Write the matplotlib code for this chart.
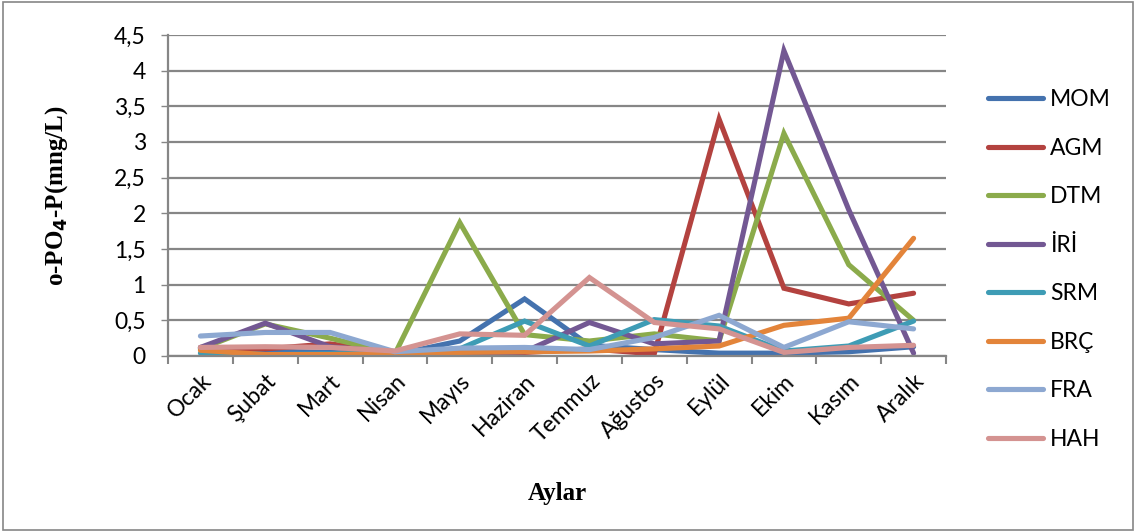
import matplotlib.pyplot as plt
import numpy as np

aylar = ['Ocak', 'Şubat', 'Mart', 'Nisan', 'Mayıs', 'Haziran', 'Temmuz',
         'Ağustos', 'Eylül', 'Ekim', 'Kasım', 'Aralık']

MOM = [0.10, 0.07, 0.05, 0.02, 0.21, 0.80, 0.15, 0.09, 0.04, 0.04, 0.06, 0.13]
AGM = [0.12, 0.10, 0.17, 0.05, 0.04, 0.05, 0.10, 0.03, 3.32, 0.95, 0.73, 0.88]
DTM = [0.10, 0.45, 0.25, 0.03, 1.87, 0.30, 0.21, 0.31, 0.21, 3.12, 1.28, 0.50]
IRI = [0.12, 0.46, 0.13, 0.05, 0.02, 0.06, 0.47, 0.17, 0.21, 4.28, 2.05, 0.04]
SRM = [0.04, 0.02, 0.03, 0.04, 0.10, 0.49, 0.14, 0.51, 0.42, 0.07, 0.14, 0.49]
BRC = [0.08, 0.02, 0.02, 0.03, 0.05, 0.06, 0.07, 0.10, 0.14, 0.43, 0.53, 1.65]
FRA = [0.28, 0.33, 0.33, 0.06, 0.11, 0.12, 0.09, 0.26, 0.57, 0.12, 0.48, 0.38]
HAH = [0.12, 0.13, 0.12, 0.07, 0.31, 0.29, 1.10, 0.47, 0.38, 0.05, 0.12, 0.15]

series = [('MOM', MOM, '#4472AE'), ('AGM', AGM, '#B3423F'), ('DTM', DTM, '#8BAB4B'),
          ('İRİ', IRI, '#735893'), ('SRM', SRM, '#3E9CB5'), ('BRÇ', BRC, '#E3843A'),
          ('FRA', FRA, '#8DA8D1'), ('HAH', HAH, '#D49391')]

plt.rcParams['font.family'] = ['Lato', 'DejaVu Sans']

fig = plt.figure(figsize=(11.36, 5.32), dpi=100)
ax = fig.add_axes([168/1136, 1 - 356/532, (946-168)/1136, (356-35)/532])

x = np.arange(len(aylar))
for name, vals, col in series:
    ax.plot(x, vals, color=col, lw=3.7, label=name, solid_capstyle='round',
            solid_joinstyle='miter')

ax.set_xlim(-0.5, len(aylar) - 0.5)
ax.set_ylim(0, 4.5)
yt = np.arange(0, 4.51, 0.5)
ax.set_yticks(yt)
ax.set_yticklabels([('%g' % v).replace('.', ',') for v in yt], fontsize=16.5)
ax.yaxis.grid(True, color='#868686', lw=1.6)
ax.set_axisbelow(True)

ax.set_xticks(x)
ax.set_xticklabels(aylar, rotation=45, ha='right', rotation_mode='anchor', fontsize=16.5)
ax.tick_params(axis='x', length=0, pad=10)
ax.set_xticks(np.arange(-0.5, len(aylar)), minor=True)
ax.tick_params(axis='x', which='minor', length=6, color='#868686', width=1.5)
ax.tick_params(axis='y', length=5, color='#868686', width=1, pad=11)

for s in ['top', 'right']:
    ax.spines[s].set_visible(False)
for s in ['left', 'bottom']:
    ax.spines[s].set_color('#868686')
    ax.spines[s].set_linewidth(1.6)

ax.set_ylabel('o-PO$_\\mathbf{4}$-P(mng/L)', family='Liberation Serif', fontweight='bold',
              fontsize=18, labelpad=32)
ax.set_xlabel('Aylar', family='Liberation Serif', fontweight='bold', fontsize=18, labelpad=26)

leg = ax.legend(loc='upper left', bbox_to_anchor=(1.028, 0.895), frameon=False, fontsize=16.5,
                handlelength=2.4, labelspacing=1.2, handletextpad=0.3)

fig.patches.append(plt.Rectangle((0.003, 0.004), 0.994, 0.992, transform=fig.transFigure,
                                 fill=False, edgecolor='#868686', lw=1.2))

fig.savefig('out.png', dpi=100)
